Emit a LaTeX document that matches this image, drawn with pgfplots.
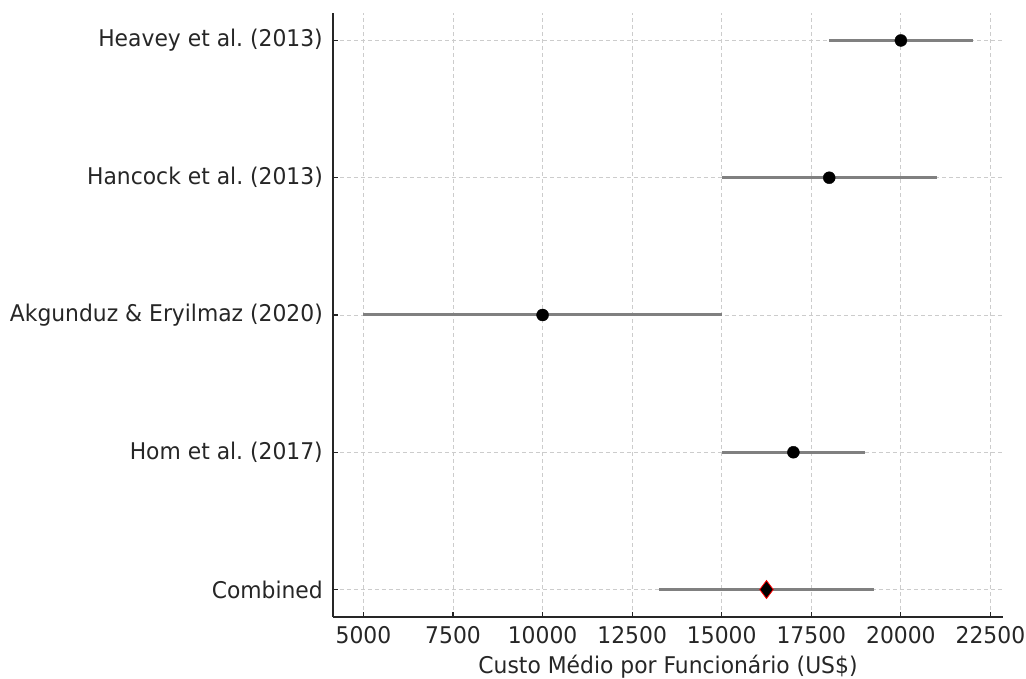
\documentclass[border=0pt]{standalone}
\usepackage{pgfplots}
\pgfplotsset{compat=1.18}
\usepackage{fontspec}
\setmainfont{DejaVu Sans}[FakeStretch=0.95]
\definecolor{txt}{HTML}{262626}
\definecolor{cigray}{HTML}{808080}
\definecolor{gridc}{HTML}{CCCCCC}
\frenchspacing
\begin{document}
\frenchspacing
\begin{tikzpicture}
\begin{axis}[
  scale only axis,
  width=670pt, height=604pt,
  xmin=4150, xmax=22850,
  ymin=-0.2, ymax=4.2,
  axis x line*=bottom, axis y line*=left,
  axis line style={line width=1.4pt, color=txt},
  xtick={5000,7500,10000,12500,15000,17500,20000,22500},
  ytick={0,1,2,3,4},
  yticklabels={Combined, Hom et al.\ (2017), Akgunduz \& Eryilmaz (2020), Hancock et al.\ (2013), Heavey et al.\ (2013)},
  scaled x ticks=false,
  /pgf/number format/fixed,
  /pgf/number format/1000 sep={},
  /pgf/number format/assume math mode=true,
  tick align=inside,
  major tick length=5pt,
  tick style={line width=1.2pt, color=txt},
  ticklabel style={font=\fontsize{23}{27}\selectfont, text=txt},
  xticklabel style={inner sep=0pt, anchor=north, yshift=-9pt},
  yticklabel style={inner sep=0pt, anchor=east, xshift=-10pt},
  grid=major,
  major grid style={gridc, line width=0.9pt, dash pattern=on 4pt off 3pt},
  xlabel={Custo Médio por Funcionário (US\$)},
  xlabel style={font=\fontsize{23}{27}\selectfont, text=txt, inner sep=0pt, anchor=north, at={(axis description cs:0.5,0)}, yshift=-38pt},
  clip=false,
]
% confidence intervals
\addplot[cigray, line width=3pt, mark=none] coordinates {(18000,4) (22000,4)};
\addplot[cigray, line width=3pt, mark=none] coordinates {(15000,3) (21000,3)};
\addplot[cigray, line width=3pt, mark=none] coordinates {(5000,2) (15000,2)};
\addplot[cigray, line width=3pt, mark=none] coordinates {(15000,1) (19000,1)};
\addplot[cigray, line width=3pt, mark=none] coordinates {(13250,0) (19250,0)};
% point estimates
\addplot[only marks, mark=*, mark size=6pt, mark options={fill=black, draw=black}] coordinates {
(20000,4) (18000,3) (10000,2) (17000,1)};
\addplot[only marks, mark=diamond*, mark size=9pt, mark options={fill=black, draw=red, line width=0.8pt}] coordinates {(16250,0)};
\coordinate (SW) at (rel axis cs:0,0);
\end{axis}
\pgfresetboundingbox
\path[use as bounding box] ([xshift=-333pt,yshift=-62pt]SW) rectangle ++(1026pt,679pt);
\end{tikzpicture}
\end{document}
